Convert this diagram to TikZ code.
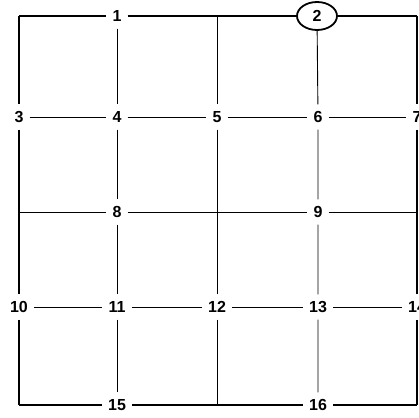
\documentclass[tikz,border=0pt]{standalone}
\usepackage{fontspec}
\setmainfont{Liberation Sans}
\usetikzlibrary{shapes.geometric}
\begin{document}
\begin{tikzpicture}[x=1pt,y=-1pt,
  lab/.style={inner xsep=6pt, inner ysep=0pt, minimum height=25pt, font=\fontsize{16}{16}\selectfont\bfseries},
  frame/.style={line width=1.9pt},
  gridline/.style={line width=0.9pt}]
\useasboundingbox (0,0) rectangle (419,417);
% corners and free ends
\coordinate (c1) at (19,16);
\coordinate (c2) at (417,16);
\coordinate (c3) at (19,405);
\coordinate (c4) at (417,405);
\coordinate (t5) at (217,16);
\coordinate (b12) at (217,405);
\coordinate (l8) at (19,212);
\coordinate (r9) at (417,212);
% labels
\node[lab] (n1) at (117,16) {1};
\node[lab, shape=ellipse, draw, line width=1.8pt, inner sep=0pt, minimum width=40pt, minimum height=28pt] (n2) at (317,16) {2};
\node[lab] (n3) at (19,117) {3};
\node[lab] (n4) at (117,117) {4};
\node[lab] (n5) at (217,117) {5};
\node[lab] (n6) at (318,117) {6};
\node[lab] (n7) at (417,117) {7};
\node[lab] (n8) at (117,212) {8};
\node[lab] (n9) at (318,212) {9};
\node[lab] (n10) at (19,307) {10};
\node[lab] (n11) at (117,307) {11};
\node[lab] (n12) at (217,307) {12};
\node[lab] (n13) at (318,307) {13};
\node[lab] (n14) at (417,307) {14};
\node[lab] (n15) at (117,405) {15};
\node[lab] (n16) at (318,405) {16};
% frame
\draw[frame] (c1) -- (n1) -- (n2) -- (c2);
\draw[frame] (c1) -- (n3) -- (n10) -- (c3);
\draw[frame] (c3) -- (n15) -- (n16) -- (c4);
\draw[frame] (c2) -- (n7) -- (n14) -- (c4);
% interior
\draw[gridline] (n1) -- (n4) -- (n8) -- (n11) -- (n15);
\draw[gridline] (t5) -- (n5) -- (n12) -- (b12);
\draw[gridline] (n2) -- (n6) -- (n9) -- (n13) -- (n16);
\draw[gridline] (n3) -- (n4) -- (n5) -- (n6) -- (n7);
\draw[gridline] (l8) -- (n8) -- (n9) -- (r9);
\draw[gridline] (n10) -- (n11) -- (n12) -- (n13) -- (n14);
\end{tikzpicture}
\end{document}
